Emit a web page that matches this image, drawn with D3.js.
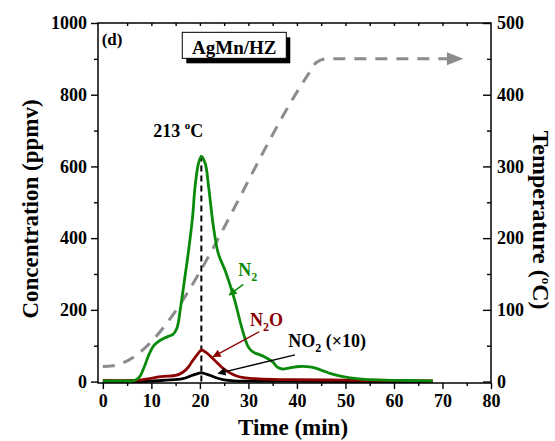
<!DOCTYPE html>
<html><head><meta charset="utf-8">
<script src="https://cdn.jsdelivr.net/npm/d3@7"></script>
<style>
body{margin:0;background:#fff}
svg{display:block}
svg text{font-family:"Liberation Serif","Times New Roman",serif;font-weight:bold}
</style>
</head><body>
<svg id="c" width="555" height="441"></svg>
<script>
// ---- data ----
const timeN2 = [0,4,6.5,7.5,8.5,9.5,10.5,11.5,12.5,13.5,14.5,15.3,16,17,17.6,18.5,19,19.7,20.3,21.1,21.8,22.8,23.8,25.2,26.2,27.2,28.6,30,31,32.7,34.1,35,36,37,38.5,40.5,43,45,47,49,51,54,58,63,68];
const n2     = [2,2,3,12,40,75,100,112,120,126,132,150,205,300,358,460,543,608,628,608,543,431,357,310,270,226,152,96,82,73,63,55,40,35,38,42,40,32,22,15,10,6,4,3,2];
const timeN2O = [0,6,8,10,11.5,13,15,16.5,17.6,18.5,19.5,20.3,21.2,22.4,23.5,24.5,25.5,27.3,29,31.4,35,40,50,60,68];
const n2o     = [3,3,5,9,13,15,17,26,40,58,76,88,82,68,53,40,30,17,11,8,6,5,4,3,2];
const timeNO2 = [0,8,10,12,14,16,17,18,19,20.3,21.5,22.5,23.5,25,27,30,40,50,60,68];
const no2x10  = [0,0,1,3,5,7,10,15,20,24,20,15,10,5,2,1,1,0,0,0];
const timeTemp = [0,2,42.5,44,46,71];
const temp     = [21,22,430,445,450,450];
const xTicks = [0,10,20,30,40,50,60,70,80];
const xMinor = [5,15,25,35,45,55,65,75];
const yTicks = [0,200,400,600,800,1000];
const yMinor = [100,300,500,700,900];
const tTicks = [0,100,200,300,400,500];
const tMinor = [50,150,250,350,450];
const peakTime = 20.3, peakLabel = "213";

const GREEN = "#0a8a0a", RED = "#8b0000", GRAY = "#8c8c8c";
const FONT = '"Liberation Serif","Times New Roman",serif';

const svg = d3.select("#c");
const x = d3.scaleLinear().domain([-1,80]).range([98,491]);
const y = d3.scaleLinear().domain([-4,1000]).range([383,23]);
const yT = d3.scaleLinear().domain([-2,500]).range([383,23]);

const defs = svg.append("defs");
function mk(id,color,w,h){
  defs.append("marker").attr("id",id).attr("viewBox","0 0 10 10").attr("refX",9).attr("refY",5)
    .attr("markerUnits","userSpaceOnUse").attr("markerWidth",w).attr("markerHeight",h).attr("orient","auto")
    .append("path").attr("d","M0,0L10,5L0,10z").attr("fill",color);
}
mk("aG",GREEN,10,8); mk("aR",RED,10,8); mk("aK","#000",10,8);

// ---- axes ----
const fmt = d3.format("d");
function styleAx(g){
  g.attr("font-family",FONT).attr("font-size",18).attr("font-weight","bold");
  g.select(".domain").remove();
  g.selectAll("line").attr("stroke","#000").attr("stroke-width",1.4);
  g.selectAll("text").attr("fill","#000");
}
svg.append("g").attr("transform","translate(0,383)").call(d3.axisBottom(x).tickValues(xTicks).tickFormat(fmt).tickSize(6).tickPadding(5)).call(styleAx);
svg.append("g").attr("transform","translate(0,383)").call(d3.axisBottom(x).tickValues(xMinor).tickSize(3).tickFormat("")).call(styleAx);
svg.append("g").attr("transform","translate(0,23)").call(d3.axisTop(x).tickValues(xTicks.concat(xMinor).filter(d=>d>0&&d<80)).tickSize(-3).tickFormat("")).call(styleAx);
svg.append("g").attr("transform","translate(98,0)").call(d3.axisLeft(y).tickValues(yTicks).tickFormat(fmt).tickSize(7).tickPadding(4)).call(styleAx);
svg.append("g").attr("transform","translate(98,0)").call(d3.axisLeft(y).tickValues(yMinor).tickSize(4).tickFormat("")).call(styleAx);
svg.append("g").attr("transform","translate(491,0)").call(d3.axisRight(yT).tickValues(tTicks).tickFormat(fmt).tickSize(-8).tickPadding(6)).call(styleAx);
svg.append("g").attr("transform","translate(491,0)").call(d3.axisRight(yT).tickValues(tMinor).tickSize(-4).tickFormat("")).call(styleAx);

svg.append("rect").attr("x",98).attr("y",23).attr("width",393).attr("height",360)
  .attr("fill","none").attr("stroke","#000").attr("stroke-width",1.5);

// ---- temperature ----
const tline = d3.line().x(d=>x(d[0])).y(d=>yT(d[1])).curve(d3.curveMonotoneX);
svg.append("path").datum(timeTemp.map((t,i)=>[t,temp[i]])).attr("d",tline)
  .attr("fill","none").attr("stroke",GRAY).attr("stroke-width",3).attr("stroke-dasharray","12,9");
const tipT = 74.3;
svg.append("path").attr("d",`M${x(70.9)},${yT(450)-6.5}L${x(tipT)},${yT(450)}L${x(70.9)},${yT(450)+6.5}Z`).attr("fill",GRAY);

// ---- peak marker ----
svg.append("line").attr("x1",x(peakTime)).attr("x2",x(peakTime)).attr("y1",y(0)).attr("y2",y(633))
  .attr("stroke","#000").attr("stroke-width",2).attr("stroke-dasharray","6,4");

// ---- concentration curves ----
const line = d3.line().x(d=>x(d[0])).y(d=>y(d[1])).curve(d3.curveCatmullRom.alpha(0.5));
function curve(ts,vs,color){
  svg.append("path").datum(ts.map((t,i)=>[t,vs[i]])).attr("d",line)
    .attr("fill","none").attr("stroke",color).attr("stroke-width",2.8).attr("stroke-linejoin","round");
}
curve(timeNO2,no2x10,"#000");
curve(timeN2O,n2o,RED);
curve(timeN2,n2,GREEN);

// ---- annotations ----
svg.append("text").attr("x",x(-0.25)).attr("y",y(939)).attr("font-size",17).text("(d)");

const bx = x(16.37), by = y(974), bw = 104, bh = 26;
svg.append("rect").attr("x",bx+4).attr("y",by+5).attr("width",bw).attr("height",bh).attr("fill","#000");
svg.append("rect").attr("x",bx).attr("y",by).attr("width",bw).attr("height",bh).attr("fill","#fff").attr("stroke","#000").attr("stroke-width",1);
svg.append("text").attr("x",bx+bw/2).attr("y",by+22).attr("text-anchor","middle").attr("font-size",19).text("AgMn/HZ");

const pl = svg.append("text").attr("x",x(10.4)).attr("y",y(682)).attr("font-size",18);
pl.append("tspan").text(peakLabel+" ");
pl.append("tspan").attr("font-size",11).attr("dy",-8).text("o");
pl.append("tspan").attr("dy",8).text("C");

function sub(xs, ys, color, parts){
  const tx = svg.append("text").attr("x",x(xs)).attr("y",y(ys)).attr("font-size",18).attr("fill",color);
  parts.forEach(p=>{
    if(p.sub){ tx.append("tspan").attr("font-size",12).attr("dy",5).text(p.s); }
    else { tx.append("tspan").attr("dy",p.back?-5:0).text(p.s); }
  });
}
sub(27.9,294.5,GREEN,[{s:"N"},{s:"2",sub:true}]);
sub(30.33,155,RED,[{s:"N"},{s:"2",sub:true},{s:"O",back:true}]);
sub(38.22,97.3,"#000",[{s:"NO"},{s:"2",sub:true},{s:" (×10)",back:true}]);

function arrow(x1,y1,x2,y2,color,w,m){
  svg.append("line").attr("x1",x(x1)).attr("y1",y(y1)).attr("x2",x(x2)).attr("y2",y(y2))
    .attr("stroke",color).attr("stroke-width",w).attr("marker-end",`url(#${m})`);
}
arrow(28.95,271,26.06,241.5,GREEN,1.5,"aG");
arrow(32.24,139,22.76,69.4,RED,1.3,"aR");
arrow(39.6,74.4,23.8,23,"#000",1.3,"aK");

// ---- axis titles ----
svg.append("text").attr("transform","translate(38,209) rotate(-90)").attr("text-anchor","middle").attr("font-size",23).text("Concentration (ppmv)");
svg.append("text").attr("x",293).attr("y",435).attr("text-anchor","middle").attr("font-size",23).text("Time (min)");
const rt = svg.append("text").attr("transform","translate(533,220) rotate(90)").attr("text-anchor","middle").attr("font-size",24);
rt.append("tspan").text("Temperature (");
rt.append("tspan").attr("font-size",13).attr("dy",-9).text("o");
rt.append("tspan").attr("dy",9).text("C)");
</script>
</body></html>
